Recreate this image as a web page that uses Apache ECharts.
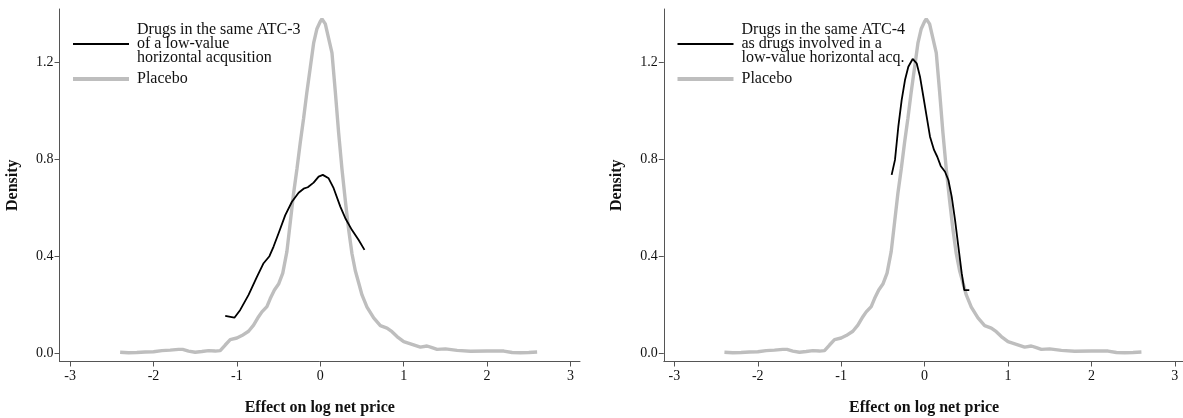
<!DOCTYPE html>
<html>
<head>
<meta charset="utf-8">
<script src="https://cdn.jsdelivr.net/npm/echarts@6/dist/echarts.min.js"></script>
<style>
  html, body { margin: 0; padding: 0; background: #ffffff; }
  #chart { width: 1183px; height: 418px; }
</style>
</head>
<body>
<div id="chart"></div>
<script>
// Kernel density of the estimated effect on log net price (placebo draws)
const placeboX = [-2.40, -2.30, -2.20, -2.10, -2.00, -1.90, -1.80, -1.70, -1.65, -1.58, -1.50, -1.42, -1.34, -1.26, -1.20,
  -1.14, -1.08, -1.00, -0.94, -0.86, -0.80, -0.74, -0.70, -0.64, -0.60, -0.55, -0.50, -0.45, -0.40, -0.36, -0.32,
  -0.28, -0.24, -0.20, -0.16, -0.12, -0.08, -0.04, 0.00, 0.02, 0.06, 0.10, 0.14, 0.18, 0.22, 0.26, 0.30, 0.34,
  0.38, 0.42, 0.46, 0.50, 0.56, 0.64, 0.72, 0.80, 0.86, 0.92, 1.00, 1.10, 1.20, 1.28, 1.34, 1.40, 1.50, 1.64,
  1.80, 2.00, 2.10, 2.20, 2.30, 2.40, 2.50, 2.60];
const placeboY = [0.003, 0.001, 0.002, 0.004, 0.005, 0.010, 0.012, 0.015, 0.015, 0.008, 0.003, 0.006, 0.010, 0.008, 0.010,
  0.033, 0.055, 0.062, 0.072, 0.090, 0.115, 0.150, 0.170, 0.192, 0.225, 0.260, 0.285, 0.330, 0.420, 0.540, 0.660,
  0.760, 0.870, 0.970, 1.080, 1.180, 1.280, 1.340, 1.370, 1.380, 1.360, 1.300, 1.240, 1.080, 0.910, 0.760, 0.630, 0.510,
  0.410, 0.340, 0.290, 0.240, 0.190, 0.145, 0.113, 0.103, 0.088, 0.068, 0.047, 0.036, 0.024, 0.029, 0.022, 0.015, 0.017, 0.011,
  0.007, 0.008, 0.008, 0.008, 0.002, 0.001, 0.002, 0.004];

// Drugs in the same ATC-3 class as a low-value horizontal acquisition
const atc3X = [-1.14, -1.03, -0.96, -0.86, -0.76, -0.68, -0.61, -0.56, -0.50, -0.42, -0.34, -0.26, -0.20, -0.15,
  -0.08, -0.02, 0.03, 0.10, 0.16, 0.24, 0.30, 0.38, 0.46, 0.53];
const atc3Y = [0.153, 0.146, 0.178, 0.240, 0.315, 0.371, 0.400, 0.440, 0.495, 0.570, 0.625, 0.662, 0.679, 0.685,
  0.704, 0.729, 0.736, 0.722, 0.681, 0.605, 0.557, 0.508, 0.467, 0.426];

// Drugs in the same ATC-4 class as drugs involved in a low-value horizontal acquisition
const atc4X = [-0.395, -0.355, -0.315, -0.275, -0.235, -0.195, -0.143, -0.095, -0.055, -0.015, 0.025, 0.065, 0.113,
  0.152, 0.193, 0.245, 0.285, 0.325, 0.365, 0.405, 0.445, 0.476, 0.536];
const atc4Y = [0.736, 0.798, 0.935, 1.045, 1.128, 1.183, 1.215, 1.197, 1.142, 1.060, 0.977, 0.894, 0.839,
  0.811, 0.773, 0.749, 0.715, 0.646, 0.550, 0.440, 0.330, 0.260, 0.260];

const xTicks = [-3, -2, -1, 0, 1, 2, 3];
const yTicks = [0, 0.4, 0.8, 1.2];

const nameAtc3 = 'Drugs in the same ATC-3\nof a low-value\nhorizontal acqusition';
const nameAtc4 = 'Drugs in the same ATC-4\nas drugs involved in a\nlow-value horizontal acq.';
const namePlacebo = 'Placebo';

const pairs = (xs, ys) => xs.map((x, i) => [x, ys[i]]);

const FONT = '"Liberation Serif", "DejaVu Serif", serif';
const AXIS_COLOR = '#555555';
const GRAY = '#bebebe';
const BLACK_W = 1.8;
const GRAY_W = 3.4;

function xAxisFor(gridIndex) {
  return {
    gridIndex,
    type: 'value',
    min: -3.127,
    max: 3.114,
    name: 'Effect on log net price',
    nameLocation: 'middle',
    nameGap: 38,
    nameTextStyle: { fontFamily: FONT, fontWeight: 'bold', fontSize: 16, color: '#111' },
    axisLine: { show: true, onZero: false, lineStyle: { color: AXIS_COLOR, width: 1 } },
    axisTick: { show: true, length: 5, customValues: xTicks, lineStyle: { color: AXIS_COLOR } },
    axisLabel: { customValues: xTicks, margin: 8, fontFamily: FONT, fontSize: 14, color: '#111',
      formatter: v => String(v) },
    splitLine: { show: false }
  };
}

function yAxisFor(gridIndex) {
  return {
    gridIndex,
    type: 'value',
    min: -0.0351,
    max: 1.4215,
    name: 'Density',
    nameLocation: 'middle',
    nameGap: 39,
    nameTextStyle: { fontFamily: FONT, fontWeight: 'bold', fontSize: 16, color: '#111' },
    axisLine: { show: true, onZero: false, lineStyle: { color: AXIS_COLOR, width: 1 } },
    axisTick: { show: true, length: 5, customValues: yTicks, lineStyle: { color: AXIS_COLOR } },
    axisLabel: { customValues: yTicks, margin: 6, fontFamily: FONT, fontSize: 14, color: '#111',
      formatter: v => v.toFixed(1) },
    splitLine: { show: false }
  };
}

function legendFor(left, mainName) {
  return {
    orient: 'vertical',
    left,
    top: 22,
    padding: 0,
    itemWidth: 56,
    itemHeight: 14,
    itemGap: 5,
    itemStyle: { opacity: 0 },
    data: [
      { name: mainName, lineStyle: { color: '#000000', width: 2 } },
      { name: namePlacebo, lineStyle: { color: GRAY, width: 4 } }
    ],
    textStyle: { fontFamily: FONT, fontSize: 16, color: '#111', lineHeight: 14, padding: [0, 0, 0, 3] },
    selectedMode: false
  };
}

const chart = echarts.init(document.getElementById('chart'), null, { renderer: 'canvas' });
chart.setOption({
  animation: false,
  backgroundColor: '#ffffff',
  grid: [
    { left: 59.5, top: 9, width: 520.5, height: 352.5, outerBoundsMode: 'none', containLabel: false },
    { left: 663.8, top: 9, width: 520.5, height: 352.5, outerBoundsMode: 'none', containLabel: false }
  ],
  xAxis: [xAxisFor(0), xAxisFor(1)],
  yAxis: [yAxisFor(0), yAxisFor(1)],
  legend: [
    legendFor(71, nameAtc3),
    legendFor(675.5, nameAtc4)
  ],
  series: [
    { name: namePlacebo, type: 'line', xAxisIndex: 0, yAxisIndex: 0, symbol: 'none',
      lineStyle: { color: GRAY, width: GRAY_W }, itemStyle: { color: GRAY }, data: pairs(placeboX, placeboY) },
    { name: nameAtc3, type: 'line', xAxisIndex: 0, yAxisIndex: 0, symbol: 'none',
      lineStyle: { color: '#000000', width: BLACK_W }, itemStyle: { color: '#000000' }, data: pairs(atc3X, atc3Y) },
    { name: namePlacebo, type: 'line', xAxisIndex: 1, yAxisIndex: 1, symbol: 'none',
      lineStyle: { color: GRAY, width: GRAY_W }, itemStyle: { color: GRAY }, data: pairs(placeboX, placeboY) },
    { name: nameAtc4, type: 'line', xAxisIndex: 1, yAxisIndex: 1, symbol: 'none',
      lineStyle: { color: '#000000', width: BLACK_W }, itemStyle: { color: '#000000' }, data: pairs(atc4X, atc4Y) }
  ]
});
</script>
</body>
</html>
